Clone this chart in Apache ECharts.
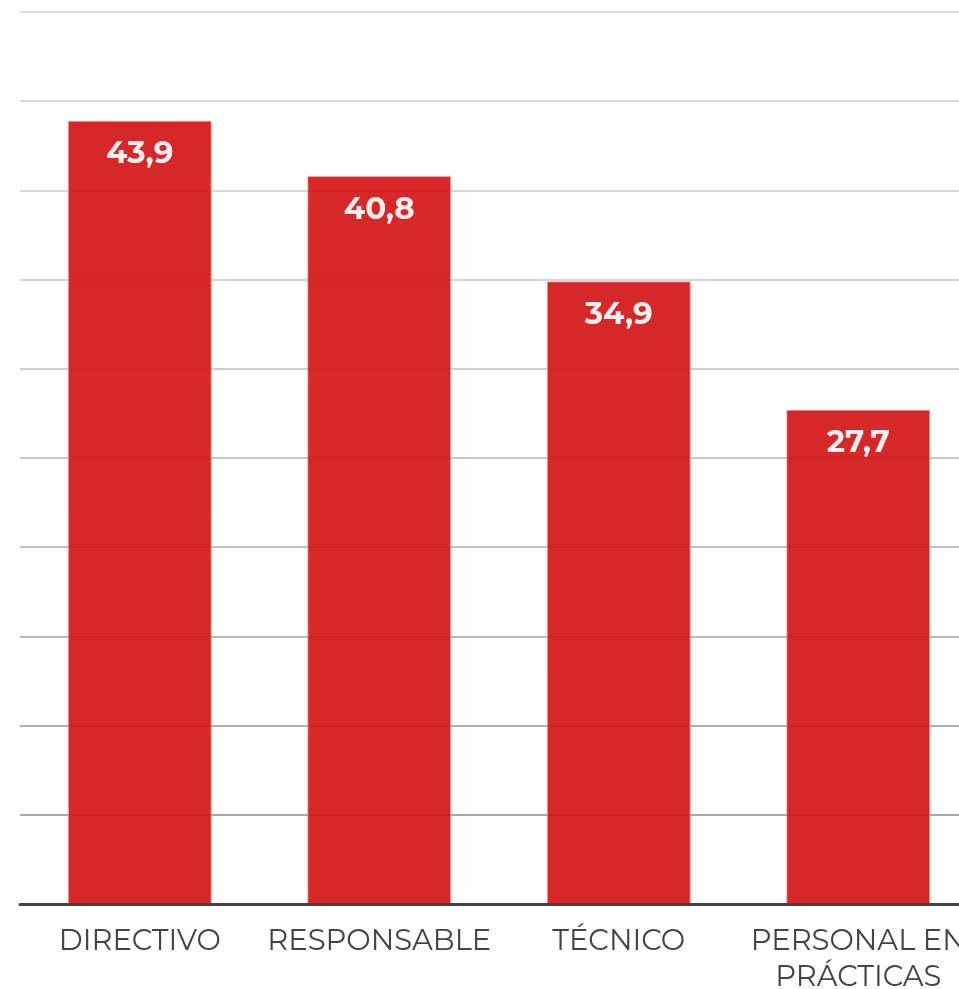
<!DOCTYPE html>
<html>
<head>
<meta charset="utf-8">
<style>
  html, body { margin: 0; padding: 0; background: #fff; }
  #chart { width: 959px; height: 989px; }
</style>
<script src="https://cdn.jsdelivr.net/npm/echarts@6/dist/echarts.min.js"></script>
</head>
<body>
<div id="chart"></div>
<script>
// Categories and values
const categories = ['DIRECTIVO', 'RESPONSABLE', 'TÉCNICO', 'PERSONAL EN\nPRÁCTICAS'];
const values = [43.9, 40.8, 34.9, 27.7];
const axisMax = 50;
const axisStep = 5;

// Grid lines fade from darker at the bottom to lighter at the top
const gridColors = ['#a8a8a8', '#a8a8a8', '#b0b0b0', '#b8b8b8', '#c0c0c0', '#c8c8c8',
                    '#cfcfcf', '#d4d4d4', '#d8d8d8', '#dcdcdc', '#e0e0e0'];

const fontFamily = "Montserrat, 'Noto Sans', sans-serif";

const chart = echarts.init(document.getElementById('chart'), null, { renderer: 'canvas' });
chart.setOption({
  animation: false,
  backgroundColor: '#ffffff',
  grid: {
    left: 20, right: -19, top: 12, bottom: 85,
    containLabel: false,
    outerBoundsMode: 'none'
  },
  xAxis: {
    type: 'category',
    data: categories,
    axisLine: { show: true, lineStyle: { color: '#444444', width: 3 } },
    axisTick: { show: false },
    axisLabel: {
      color: '#444444',
      fontFamily: fontFamily,
      fontSize: 29,
      lineHeight: 36,
      margin: 19,
      interval: 0,
      hideOverlap: false
    },
    z: 5
  },
  yAxis: {
    type: 'value',
    min: 0,
    max: axisMax,
    interval: axisStep,
    axisLine: { show: false },
    axisTick: { show: false },
    axisLabel: { show: false },
    splitLine: { show: true, lineStyle: { color: gridColors, width: 2 } }
  },
  series: [{
    type: 'bar',
    data: values,
    barWidth: '60%',
    itemStyle: {
      color: '#d31517',
      opacity: 0.92,
      borderColor: 'rgba(240,150,150,0.9)',
      borderWidth: 1
    },
    label: {
      show: true,
      position: 'insideTop',
      distance: 18,
      color: '#ffffff',
      fontFamily: fontFamily,
      fontWeight: 'bold',
      fontSize: 31,
      formatter: p => p.value.toFixed(1).replace('.', ',')
    }
  }]
});
</script>
</body>
</html>
